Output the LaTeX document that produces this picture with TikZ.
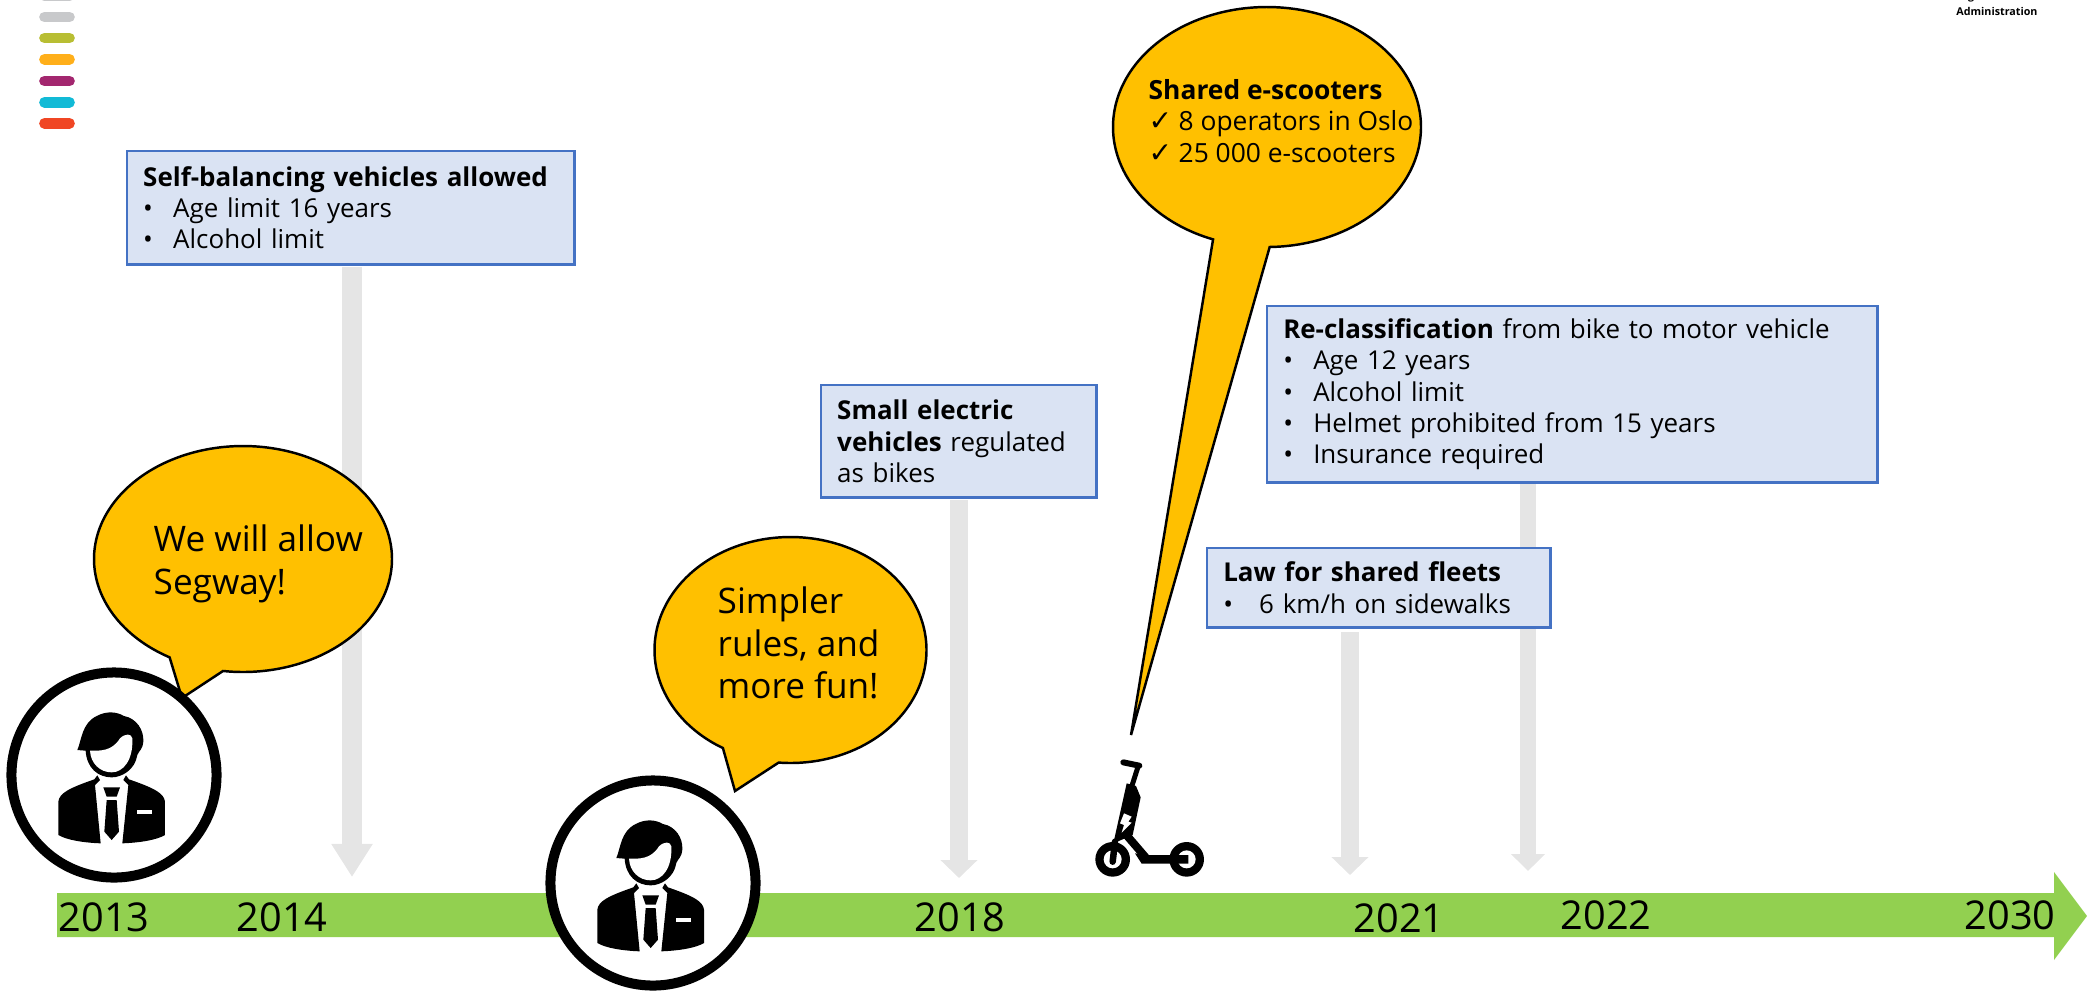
\documentclass[tikz,border=0pt]{standalone}
\usepackage{fontspec}
\usepackage{xcolor}
\setmainfont{Open Sans}
\newfontfamily\tickfont{DejaVu Sans}
\usetikzlibrary{arrows.meta}

\definecolor{boxfill}{HTML}{DAE3F3}
\definecolor{boxline}{HTML}{4472C4}
\definecolor{bubblefill}{HTML}{FFC000}
\definecolor{barfill}{HTML}{92D050}
\definecolor{downgray}{HTML}{E5E5E5}

\newcommand{\boxfont}{\fontsize{7.38pt}{8.9pt}\selectfont}
\newcommand{\sharedfont}{\fontsize{7.5pt}{9.05pt}\selectfont}
\newcommand{\bigfont}{\fontsize{10pt}{12.1pt}\selectfont}
\newcommand{\yearfont}{\fontsize{11.3pt}{12.1pt}\selectfont}
\newcommand{\logofont}{\bfseries\fontsize{3.05pt}{4pt}\selectfont}
\newcommand{\dotitem}{\makebox[0.30cm][l]{•}}
\newcommand{\tickitem}{\makebox[0.30cm][l]{\tickfont\fontsize{8pt}{8.9pt}\selectfont ✓}}
% centre x, centre y, radius x, radius y, tail base angles, tail tip
\newcommand{\speechbubble}[7]{%
  \draw[bubbleline] plot[domain=#5:#6,samples=120,smooth] ({#1+#3*cos(\x)},{#2+#4*sin(\x)}) -- #7 -- cycle;}

\tikzset{
  infobox/.style={draw=boxline,fill=boxfill,line width=0.7pt,anchor=north west,align=left,
    inner xsep=0.16cm,inner ysep=0pt,font=\boxfont},
  bubbleline/.style={draw=black,fill=bubblefill,line width=0.7pt},
  bubbletext/.style={anchor=west,align=left,inner sep=0pt,font=\bigfont},
  yearlabel/.style={anchor=base west,inner sep=0pt,font=\yearfont},
  personring/.style={circle,draw=black,fill=white,line width=0.10cm,minimum size=2.05cm,inner sep=0pt},
  downarrow/.style={draw=downgray,line width=0.18cm,-{Triangle[width=0.36cm,length=0.18cm]}},
  person/.pic={
    \begin{scope}[scale=0.3333,shift={(-342,-405)}]
      % jacket
      \fill (175,485) .. controls (178,460) and (205,445) .. (283,418) -- (292,406) -- (300,420)
        -- (285,435) -- (302,610) .. controls (250,608) and (200,600) .. (175,585) -- cycle;
      \fill (495,485) .. controls (492,460) and (465,445) .. (387,418) -- (378,406) -- (370,420)
        -- (385,435) -- (367,610) .. controls (420,608) and (470,600) .. (495,585) -- cycle;
      % hair and face
      \fill (232,330) .. controls (245,300) and (245,250) .. (290,228)
        .. controls (320,212) and (350,215) .. (372,228)
        .. controls (410,235) and (432,270) .. (430,305)
        .. controls (430,325) and (415,335) .. (412,345)
        .. controls (405,390) and (365,412) .. (335,412)
        .. controls (295,412) and (260,385) .. (257,332) -- cycle;
      \fill[white] (270,332) .. controls (300,332) and (335,335) .. (360,295)
        .. controls (375,280) and (395,280) .. (397,295)
        .. controls (400,360) and (370,397) .. (335,397)
        .. controls (300,397) and (272,370) .. (270,332) -- cycle;
      % tie and pocket
      \fill (310,442) -- (360,442) -- (350,470) -- (320,470) -- cycle;
      \fill (320,480) -- (350,480) -- (357,575) -- (335,600) -- (313,575) -- cycle;
      \fill[white] (410,510) rectangle (455,522);
    \end{scope}
  },
  scooter/.pic={
    \begin{scope}[scale=0.3333,shift={(-270,-300)}]
      % handle and column
      \draw[line width=0.06cm,line cap=round] (190,127) -- (238,137);
      \draw[line width=0.05cm] (235,137) -- (215,200);
      \fill (200,190) -- (228,198) -- (242,232) -- (218,345) -- (160,370) -- cycle;
      \fill[white] (192,280) -- (215,290) -- (205,305) -- (215,308) -- (185,338) -- (192,315) -- (180,310) -- cycle;
      % wheels
      \fill (158,418) circle[radius=52];
      \fill[white] (158,418) circle[radius=27];
      \fill (380,418) circle[radius=52];
      \fill[white] (380,418) circle[radius=27];
      \draw[line width=0.065cm,line cap=round] (165,365) -- (158,425);
      % frame and deck
      \draw[line width=0.08cm] (195,340) -- (262,418);
      \fill (225,400) -- (245,431) -- (385,431) -- (385,405) -- (260,405) -- cycle;
    \end{scope}
  }
}

\begin{document}
\begin{tikzpicture}[x=0.01cm,y=-0.01cm]
  \useasboundingbox (0,0) rectangle (2087,990);

  % Colour strips
  \foreach \ypos/\stripcol in {-4/C8C9CB,17/C8C9CB,38/B8BE33,59.3/FFAF1A,81/A3276F,102.3/12BAD6,123.3/F04624}{
    \definecolor{stripnow}{HTML}{\stripcol}
    \draw[stripnow,line width=0.107cm,line cap=round] (44.5,\ypos) -- (69.5,\ypos);
  }

  % Logo text
  \node[inner sep=0pt,font=\logofont] (logoa) at (1997,-3) {Norwegian Public Roads};
  \node[inner sep=0pt,font=\logofont] (logob) at (1997,11) {Administration};

  % Time line
  \fill[barfill] (57,893) -- (2054,893) -- (2054,872) -- (2087,916) -- (2054,960) -- (2054,937) -- (57,937) -- cycle;
  \node[yearlabel] (y2013) at (58,931) {2013};
  \node[yearlabel] (y2014) at (236,931) {2014};
  \node[yearlabel] (y2018) at (914,931) {2018};
  \node[yearlabel] (y2021) at (1353,932) {2021};
  \node[yearlabel] (y2022) at (1560,929) {2022};
  \node[yearlabel] (y2030) at (1964,929) {2030};

  % Down arrows
  \coordinate (topa) at (352,267);
  \coordinate (tipa) at (352,877);
  \coordinate (topb) at (959,500);
  \coordinate (tipb) at (959,878);
  \coordinate (topc) at (1350,632);
  \coordinate (tipc) at (1350,875);
  \coordinate (topd) at (1528,482);
  \coordinate (tipd) at (1528,871);
  \draw[downarrow,line width=0.19cm,-{Triangle[width=0.39cm,length=0.33cm]}] (topa) -- (tipa);
  \draw[downarrow] (topb) -- (tipb);
  \draw[downarrow] (topc) -- (tipc);
  \draw[downarrow,line width=0.16cm,-{Triangle[width=0.33cm,length=0.17cm]}] (topd) -- (tipd);

  % Text boxes
  \node[infobox,minimum width=4.47cm,minimum height=1.13cm,text width=4.15cm] (selfbal) at (126,150)
    {\textbf{Self-balancing vehicles allowed}\\ \dotitem Age limit 16 years\\ \dotitem Alcohol limit};
  \node[infobox,minimum width=2.75cm,minimum height=1.12cm,text width=2.43cm] (smallev) at (820,384)
    {\textbf{Small electric}\\ \textbf{vehicles} regulated\\ as bikes};
  \node[infobox,minimum width=6.10cm,minimum height=1.76cm,text width=5.78cm] (reclass) at (1266,305)
    {\textbf{Re-classification} from bike to motor vehicle\\ \dotitem Age 12 years\\ \dotitem Alcohol limit\\
     \dotitem Helmet prohibited from 15 years\\ \dotitem Insurance required};
  \node[infobox,minimum width=3.43cm,minimum height=0.79cm,text width=3.11cm] (sharedlaw) at (1206,547)
    {\textbf{Law for shared fleets}\\ \makebox[0.36cm][l]{•}6 km/h on sidewalks};

  % Speech bubbles
  \speechbubble{243}{559}{149}{113}{119.5}{457.7}{(182,698)}
  \node[bubbletext] (segway) at (153,564) {We will allow\\ Segway!};
  \speechbubble{790.5}{650}{136}{113}{119.8}{455}{(735,791)}
  \node[bubbletext] (simpler) at (717,643) {Simpler\\ rules, and\\ more fun!};
  \speechbubble{1267}{127}{154}{120}{110.5}{449}{(1131,735)}
  \node[bubbletext,font=\sharedfont] (shared) at (1148,121)
    {\textbf{Shared e-scooters}\\ \tickitem 8 operators in Oslo\\ \tickitem 25 000 e-scooters};

  % Persons and scooter
  \node[personring] (persona) at (114,775) {};
  \pic at (persona) {person};
  \node[personring] (personb) at (653,883) {};
  \pic at (personb) {person};
  \pic at (1150,820) {scooter};
\end{tikzpicture}
\end{document}
